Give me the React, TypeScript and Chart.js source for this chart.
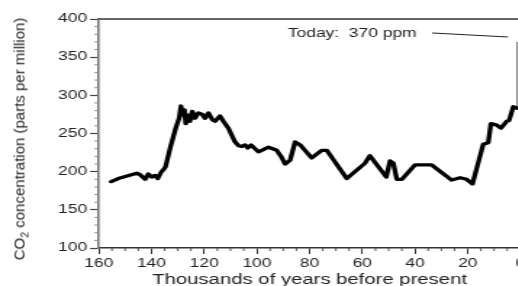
import React, { useEffect, useRef } from "react";
import { Chart, registerables } from "chart.js";

Chart.register(...registerables);

// ---- data (thousands of years before present, CO2 ppm) ----
const YEARS_BP = [
  155.3, 152.6, 145.6, 144.3, 142.4, 141.2, 139.9, 138.6, 137.6, 136.4,
  135.1, 134.6, 132.9, 130.8, 129.5, 128.8, 128.3, 127.5, 127.0, 126.0,
  125.4, 124.5, 123.5, 122.2, 120.7, 119.7, 118.4, 116.9, 115.9, 114.0,
  112.7, 110.8, 108.3, 107.0, 105.7, 104.5, 103.5, 102.2, 101.0, 99.4,
  95.6, 92.5, 90.8, 89.3, 87.4, 85.5, 83.6, 79.2, 75.4, 73.5,
  65.9, 59.0, 57.1, 55.8, 50.9, 49.5, 48.2, 46.9, 45.0, 40.0,
  33.7, 31.1, 26.1, 22.9, 20.4, 18.2, 14.1, 12.2, 11.2, 9.0,
  7.4, 5.2, 4.3, 2.7, 1.2,
];
const CO2_PPM = [
  187, 191, 198, 196, 190, 197, 193, 195, 191, 199,
  204, 207, 231, 257, 270, 286, 274, 281, 263, 274,
  266, 279, 270, 277, 275, 270, 277, 268, 266, 273,
  266, 257, 239, 234, 233, 235, 231, 235, 231, 226,
  232, 228, 220, 210, 215, 239, 235, 218, 228, 228,
  191, 211, 221, 215, 193, 214, 211, 190, 190, 209,
  209, 202, 189, 192, 190, 184, 236, 238, 263, 261,
  257, 266, 267, 285, 283,
];
const MODERN_YEARS = [1.2, 1.2];
const MODERN_PPM = [283, 370];
const LEADER_YEARS = [33.5, 4.7];
const LEADER_PPM = [381.7, 376.4];
const ANNOTATION_TEXT = "Today:  370 ppm";
const ANNOTATION_YEAR = 88.2;
const ANNOTATION_PPM = 381;

const X_MIN = 0;
const X_MAX = 160;
const X_STEP = 20;
const X_MINOR = 5;
const Y_MIN = 100;
const Y_MAX = 400;
const Y_STEP = 50;
const Y_MINOR = 10;

const X_TITLE = "Thousands of years before present";
const Y_TITLE_A = "CO";
const Y_TITLE_SUB = "2";
const Y_TITLE_B = " concentration (parts per million)";

// ---- layout ----
const SX = 1.45;
const CW = 372;
const CH = 286;
const FONT = '"Liberation Sans", Arial, Helvetica, sans-serif';
const TEXT_COLOR = "#222";

const decorPlugin = {
  id: "decor",
  afterDraw(chart: any) {
    const { ctx, chartArea, scales } = chart;
    const xs = scales.x;
    const ys = scales.y;
    ctx.save();
    // top frame line
    ctx.strokeStyle = "#333";
    ctx.lineWidth = 1.5;
    ctx.beginPath();
    ctx.moveTo(chartArea.left, chartArea.top);
    ctx.lineTo(chartArea.right + 30, chartArea.top);
    ctx.stroke();
    // y minor ticks
    ctx.strokeStyle = "#8a8a8a";
    ctx.lineWidth = 1;
    for (let v = Y_MIN; v <= Y_MAX; v += Y_MINOR) {
      if (v % Y_STEP === 0) continue;
      const y = ys.getPixelForValue(v);
      ctx.beginPath();
      ctx.moveTo(chartArea.left - 3, y);
      ctx.lineTo(chartArea.left, y);
      ctx.stroke();
    }
    // x minor ticks
    ctx.strokeStyle = "#555";
    for (let v = X_MIN; v <= X_MAX; v += X_MINOR) {
      if (v % X_STEP === 0) continue;
      const x = xs.getPixelForValue(v);
      ctx.beginPath();
      ctx.moveTo(x, chartArea.bottom);
      ctx.lineTo(x, chartArea.bottom + 3);
      ctx.stroke();
    }
    // annotation text
    ctx.font = `12px ${FONT}`;
    ctx.fillStyle = TEXT_COLOR;
    ctx.textAlign = "left";
    ctx.textBaseline = "middle";
    ctx.fillText(
      ANNOTATION_TEXT,
      xs.getPixelForValue(ANNOTATION_YEAR),
      ys.getPixelForValue(ANNOTATION_PPM)
    );
    ctx.restore();
  },
};

export default function App() {
  const ref = useRef<HTMLCanvasElement | null>(null);

  useEffect(() => {
    if (!ref.current) return;
    Chart.defaults.font.family = FONT;
    const chart = new Chart(ref.current, {
      type: "line",
      data: {
        datasets: [
          {
            data: YEARS_BP.map((x, i) => ({ x, y: CO2_PPM[i] })),
            borderColor: "#000",
            borderWidth: 3.3,
            pointRadius: 0,
            tension: 0,
            borderJoinStyle: "round",
            borderCapStyle: "round",
            fill: false,
          },
          {
            data: MODERN_YEARS.map((x, i) => ({ x, y: MODERN_PPM[i] })),
            borderColor: "#333",
            borderWidth: 0.8,
            pointRadius: 0,
            fill: false,
          },
          {
            data: LEADER_YEARS.map((x, i) => ({ x, y: LEADER_PPM[i] })),
            borderColor: "#222",
            borderWidth: 1,
            pointRadius: 0,
            fill: false,
          },
        ],
      },
      options: {
        animation: false,
        responsive: false,
        devicePixelRatio: 1,
        layout: { padding: { top: 19, right: CW - 358.9, bottom: 0, left: 0 } },
        plugins: { legend: { display: false }, tooltip: { enabled: false } },
        scales: {
          x: {
            type: "linear",
            reverse: true,
            min: X_MIN,
            max: X_MAX,
            afterFit: (s: any) => {
              s.height = 38;
            },
            ticks: {
              stepSize: X_STEP,
              font: { size: 12 },
              color: TEXT_COLOR,
              padding: 2,
              maxRotation: 0,
              autoSkip: false,
            },
            grid: {
              drawOnChartArea: false,
              tickLength: 6,
              tickColor: "#333",
              tickWidth: 1,
            },
            border: { display: true, color: "#333", width: 1.5 },
            title: {
              display: true,
              text: X_TITLE,
              font: { size: 14, lineHeight: 0.86 },
              color: TEXT_COLOR,
              padding: 0,
            },
          },
          y: {
            type: "linear",
            min: Y_MIN,
            max: Y_MAX,
            afterFit: (s: any) => {
              s.width = 68.1;
            },
            ticks: {
              stepSize: Y_STEP,
              font: { size: 12 },
              color: TEXT_COLOR,
              padding: 2,
            },
            grid: {
              drawOnChartArea: false,
              tickLength: 6,
              tickColor: "#444",
              tickWidth: 1.2,
            },
            border: { display: true, color: "#777", width: 1.6 },
          },
        },
      },
      plugins: [decorPlugin],
    } as any);
    return () => chart.destroy();
  }, []);

  return (
    <div
      style={{
        position: "fixed",
        left: 0,
        top: 0,
        width: 518,
        height: 286,
        overflow: "hidden",
        background: "#fff",
      }}
    >
      <div
        style={{
          position: "absolute",
          left: 0,
          top: 0,
          width: CW,
          height: CH,
          transform: `scaleX(${SX})`,
          transformOrigin: "0 0",
        }}
      >
        <canvas
          ref={ref}
          width={CW}
          height={CH}
          style={{ display: "block", width: CW, height: CH }}
        />
      </div>
      <div
        style={{
          position: "absolute",
          left: 19,
          top: 139,
          transform: "translate(-50%, -50%) rotate(-90deg)",
          whiteSpace: "nowrap",
          font: `15px ${FONT}`,
          color: TEXT_COLOR,
          lineHeight: 1,
        }}
      >
        {Y_TITLE_A}
        <sub style={{ fontSize: "0.7em", verticalAlign: "-0.35em", lineHeight: 0 }}>
          {Y_TITLE_SUB}
        </sub>
        {Y_TITLE_B}
      </div>
    </div>
  );
}
